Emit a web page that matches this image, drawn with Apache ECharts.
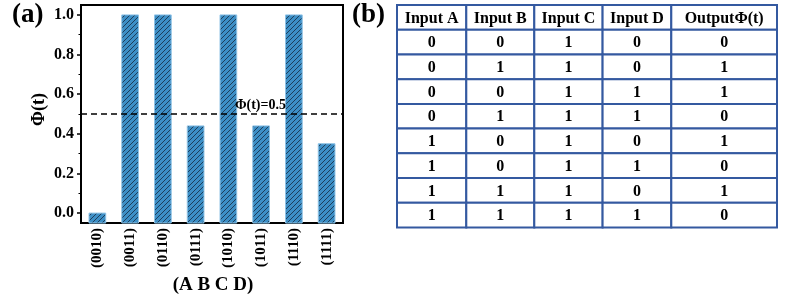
<!DOCTYPE html>
<html><head><meta charset="utf-8">
<script src="https://cdn.jsdelivr.net/npm/echarts@6/dist/echarts.min.js"></script>
<style>html,body{margin:0;padding:0;background:#fff}#c{width:793px;height:295px}</style>
</head><body><div id="c"></div>
<script>
// ---- data ----
const categories = ['(0010)','(0011)','(0110)','(0111)','(1010)','(1011)','(1110)','(1111)'];
const phiValues = [0.0, 1.0, 1.0, 0.44, 1.0, 0.44, 1.0, 0.35];
const yTickValues = [0.0, 0.2, 0.4, 0.6, 0.8, 1.0];
const yMinorTickValues = [0.1, 0.3, 0.5, 0.7, 0.9];
const thresholdValue = 0.5;
const thresholdLabel = 'Φ(t)=0.5';
const xAxisTitle = '(A B C D)';
const yAxisTitle = 'Φ(t)';
const tableHeader = ['Input A','Input B','Input C','Input D','OutputΦ(t)'];
const inputA = [0,0,0,0,1,1,1,1];
const inputB = [0,1,0,1,0,0,1,1];
const inputC = [1,1,1,1,1,1,1,1];
const inputD = [0,0,1,1,0,1,0,1];
const outputPhi = [0,1,1,0,1,0,1,0];

// ---- layout constants ----
const Y_MIN = -0.05, Y_MAX = 1.05;
const colWidths = [69.3, 68, 68.3, 68.7, 105.7];
const colStarts = colWidths.map((w,i)=>colWidths.slice(0,i).reduce((a,b)=>a+b,0));
const tableTotal = colWidths.reduce((a,b)=>a+b,0);
const FONT = '"Liberation Serif","Times New Roman",serif';

// hatch pattern
const pc = document.createElement('canvas');
pc.width = 5; pc.height = 5;
const g = pc.getContext('2d');
g.fillStyle = '#3d8fc6'; g.fillRect(0,0,5,5);
g.strokeStyle = '#1b3650'; g.lineWidth = 0.9;
g.beginPath();
g.moveTo(-1,6); g.lineTo(6,-1);
g.moveTo(-1,1); g.lineTo(1,-1);
g.moveTo(4,6); g.lineTo(6,4);
g.stroke();
const hatch = {image: pc, repeat: 'repeat'};

// table cells
const tableCells = [];
tableHeader.forEach((h,c)=>tableCells.push([c,0,h]));
const cols = [inputA,inputB,inputC,inputD,outputPhi];
for (let r=0;r<inputA.length;r++) for (let c=0;c<5;c++) tableCells.push([c,r+1,String(cols[c][r])]);

const chart = echarts.init(document.getElementById('c'), null, {renderer:'canvas'});
chart.setOption({
  animation:false,
  graphic:[
    {type:'text', left:12, top:2, style:{text:'(a)', font:'bold 27px '+FONT, fill:'#000'}},
    {type:'text', left:352, top:2, style:{text:'(b)', font:'bold 27px '+FONT, fill:'#000'}},
    {type:'text', x:213, y:285, style:{text:xAxisTitle, align:'center', verticalAlign:'middle', font:'bold 19px '+FONT, fill:'#000'}},
    {type:'text', x:39, y:109.5, rotation:Math.PI/2, style:{text:yAxisTitle, align:'center', verticalAlign:'middle', font:'bold 18px '+FONT, fill:'#000'}}
  ],
  grid:[
    {left:81, top:5, width:262, height:218, show:true, borderColor:'#000', borderWidth:2, backgroundColor:'transparent', containLabel:false, outerBoundsMode:'none'},
    {left:397, top:5, width:380, height:222.5, containLabel:false, outerBoundsMode:'none'}
  ],
  xAxis:[
    {gridIndex:0, type:'category', data:categories, boundaryGap:true,
     axisLine:{show:false}, axisTick:{show:false},
     axisLabel:{rotate:90, margin:5, color:'#000', fontFamily:FONT, fontWeight:'bold', fontSize:15}},
    {gridIndex:1, type:'value', min:0, max:tableTotal, show:false}
  ],
  yAxis:[
    {gridIndex:0, type:'value', min:Y_MIN, max:Y_MAX,
     axisLine:{show:true, lineStyle:{color:'#000', width:2}},
     axisTick:{show:true, customValues:yTickValues, length:4, lineStyle:{color:'#000', width:1.5}},
     axisLabel:{customValues:yTickValues, formatter:v=>v.toFixed(1), margin:7, color:'#000', fontFamily:FONT, fontWeight:'bold', fontSize:16},
     splitLine:{show:false}},
    {gridIndex:0, type:'value', min:Y_MIN, max:Y_MAX, position:'left',
     axisLine:{show:false},
     axisTick:{show:true, customValues:yMinorTickValues, length:2.5, lineStyle:{color:'#000', width:1}},
     axisLabel:{show:false}, splitLine:{show:false}},
    {gridIndex:1, type:'value', min:0, max:9, inverse:true, show:false}
  ],
  series:[
    {type:'custom', xAxisIndex:0, yAxisIndex:0,
     data:phiValues.map((v,i)=>[i,v]),
     renderItem:function(params, api){
       const top = api.coord([api.value(0), api.value(1)]);
       const base = params.coordSys.y + params.coordSys.height;
       const w = api.size([1,0])[0]*0.51;
       return {type:'rect', shape:{x:top[0]-w/2, y:top[1], width:w, height:base-top[1]},
               style:{fill:hatch, stroke:'#8fc3e6', lineWidth:1}};
     },
     markLine:{silent:true, symbol:'none',
       data:[{yAxis:thresholdValue}],
       lineStyle:{color:'#000', width:1.5, type:[6,4]},
       label:{show:true, position:'insideEndTop', formatter:thresholdLabel, distance:2,
              padding:[0,55,0,0], color:'#000', fontFamily:FONT, fontWeight:'bold', fontSize:14}}
    },
    {type:'custom', xAxisIndex:1, yAxisIndex:2, data:tableCells,
     renderItem:function(params, api){
       const c = api.value(0), r = api.value(1);
       const p0 = api.coord([colStarts[c], r]);
       const p1 = api.coord([colStarts[c]+colWidths[c], r+1]);
       const txt = tableCells[params.dataIndex][2];
       return {type:'group', children:[
         {type:'rect', shape:{x:p0[0], y:p0[1], width:p1[0]-p0[0], height:p1[1]-p0[1]},
          style:{fill:'#fff', stroke:'#3459a0', lineWidth:2}},
         {type:'text', style:{text:txt, x:(p0[0]+p1[0])/2, y:(p0[1]+p1[1])/2+1, align:'center', verticalAlign:'middle',
          font:'bold 16px '+FONT, fill:'#000'}}
       ]};
     }}
  ]
});
</script></body></html>
